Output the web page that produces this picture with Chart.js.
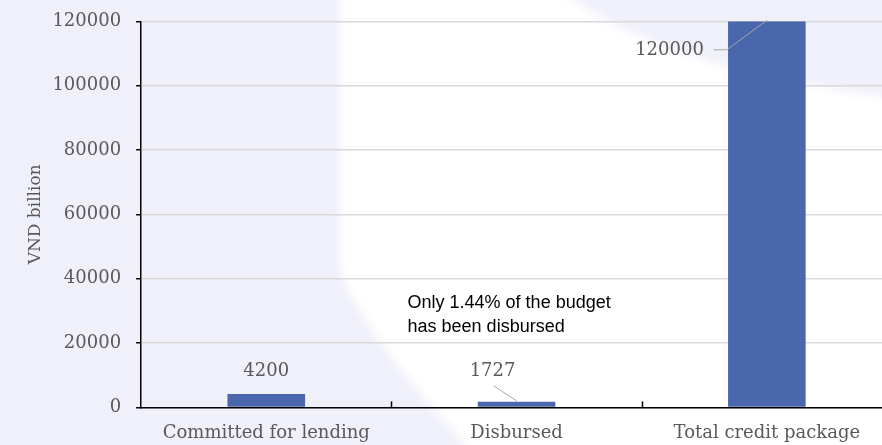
<!DOCTYPE html>
<html>
<head>
<meta charset="utf-8">
<script src="https://cdn.jsdelivr.net/npm/chart.js@4.4.1/dist/chart.umd.min.js"></script>
<style>
    html, body { margin: 0; padding: 0; overflow: hidden; background: #f0f0fa; }
    #wrap { position: absolute; left: 0; top: 0; width: 900px; height: 451px; }
</style>
</head>
<body>
<div id="wrap"><canvas id="creditChart"></canvas></div>
<script>
// Datos del paquete de crédito (miles de millones de VND)
const categorias = ['Committed for lending', 'Disbursed', 'Total credit package'];
const valores = [4200, 1727, 120000];
const ticksY = [0, 20000, 40000, 60000, 80000, 100000, 120000];
const nota = ['Only 1.44% of the budget', 'has been disbursed'];

const COLOR_BARRA = '#4a66ac';
const COLOR_TEXTO = '#595959';
const COLOR_GUIA = '#a6a6a6';
const FUENTE_SERIF = '"DejaVu Serif", serif';

// Fondo: lavanda con una franja blanca curva
const fondoPlugin = {
    id: 'fondo',
    beforeDraw(chart) {
        const c = chart.ctx;
        const w = chart.width, h = chart.height;
        c.save();
        c.fillStyle = '#f0f0fa';
        c.fillRect(0, 0, w, h);
        c.filter = 'blur(5px)';
        c.fillStyle = '#ffffff';
        c.beginPath();
        c.moveTo(340, -10);
        c.lineTo(560, -10);
        c.quadraticCurveTo(660, 70, w + 10, 100);
        c.lineTo(w + 10, h + 10);
        c.lineTo(480, h + 10);
        c.quadraticCurveTo(360, 330, 340, 270);
        c.closePath();
        c.fill();
        c.restore();
    }
};

// Marcas del eje X entre categorías (hacia arriba)
const marcasXPlugin = {
    id: 'marcasX',
    afterDraw(chart) {
        const x = chart.scales.x;
        const y0 = chart.scales.y.getPixelForValue(0);
        const c = chart.ctx;
        c.save();
        c.strokeStyle = '#000';
        c.lineWidth = 1.5;
        for (let i = 0; i < categorias.length - 1; i++) {
            const px = Math.round((x.getPixelForTick(i) + x.getPixelForTick(i + 1)) / 2) + 0.5;
            c.beginPath();
            c.moveTo(px, y0);
            c.lineTo(px, y0 - 6);
            c.stroke();
        }
        c.restore();
    }
};

// Etiquetas de valor con líneas guía, y la nota de texto
const etiquetasPlugin = {
    id: 'etiquetas',
    afterDatasetsDraw(chart) {
        const c = chart.ctx;
        const barras = chart.getDatasetMeta(0).data;
        c.save();
        c.font = '18px ' + FUENTE_SERIF;
        c.fillStyle = COLOR_TEXTO;
        c.textBaseline = 'middle';

        // 4200: encima de la barra
        const b0 = barras[0];
        c.textAlign = 'center';
        c.fillText(String(valores[0]), b0.x, b0.y - 23);

        // 1727: desplazada a la izquierda con guía
        const b1 = barras[1];
        c.fillText(String(valores[1]), b1.x - 24, b1.y - 31);
        c.strokeStyle = COLOR_GUIA;
        c.lineWidth = 1;
        c.beginPath();
        c.moveTo(b1.x - 23, b1.y - 16);
        c.lineTo(b1.x, b1.y - 1);
        c.stroke();

        // 120000: a la izquierda de la barra con guía quebrada
        const b2 = barras[2];
        c.textAlign = 'right';
        c.fillText(String(valores[2]), b2.x - 63, b2.y + 29);
        c.beginPath();
        c.moveTo(b2.x - 53, b2.y + 28.5);
        c.lineTo(b2.x - 40, b2.y + 28.5);
        c.lineTo(b2.x, b2.y - 1);
        c.stroke();

        // Nota
        c.font = '18px "Liberation Sans", Arial, sans-serif';
        c.fillStyle = '#000';
        c.textAlign = 'left';
        const yn = chart.scales.y.getPixelForValue(32500);
        nota.forEach((linea, i) => c.fillText(linea, b1.x - 109, yn + i * 24));
        c.restore();
    }
};

const ctx = document.getElementById('creditChart');
new Chart(ctx, {
    type: 'bar',
    data: {
        labels: categorias,
        datasets: [{
            data: valores,
            backgroundColor: COLOR_BARRA,
            barPercentage: 0.62,
            categoryPercentage: 0.5
        }]
    },
    options: {
        responsive: true,
        maintainAspectRatio: false,
        animation: false,
        layout: { padding: { top: 6, right: 8, left: 25, bottom: 0 } },
        plugins: {
            legend: { display: false },
            tooltip: { enabled: false }
        },
        scales: {
            x: {
                grid: { display: false },
                border: { color: '#000', width: 1.5 },
                ticks: {
                    color: COLOR_TEXTO,
                    font: { family: FUENTE_SERIF, size: 18 },
                    padding: 7,
                    maxRotation: 0
                }
            },
            y: {
                min: 0,
                max: 120000,
                afterBuildTicks(axis) {
                    axis.ticks = ticksY.map(v => ({ value: v }));
                },
                grid: {
                    color: '#d9d9d9',
                    lineWidth: 1.5,
                    tickColor: '#000',
                    tickLength: 5
                },
                border: { color: '#000', width: 1.5 },
                ticks: {
                    color: COLOR_TEXTO,
                    font: { family: FUENTE_SERIF, size: 18, lineHeight: 0.7 },
                    padding: 15,
                    callback: v => String(v)
                },
                title: {
                    display: true,
                    text: 'VND billion',
                    color: COLOR_TEXTO,
                    font: { family: FUENTE_SERIF, size: 17 },
                    padding: { top: 0, bottom: -8 }
                }
            }
        }
    },
    plugins: [fondoPlugin, marcasXPlugin, etiquetasPlugin]
});
</script>
</body>
</html>
